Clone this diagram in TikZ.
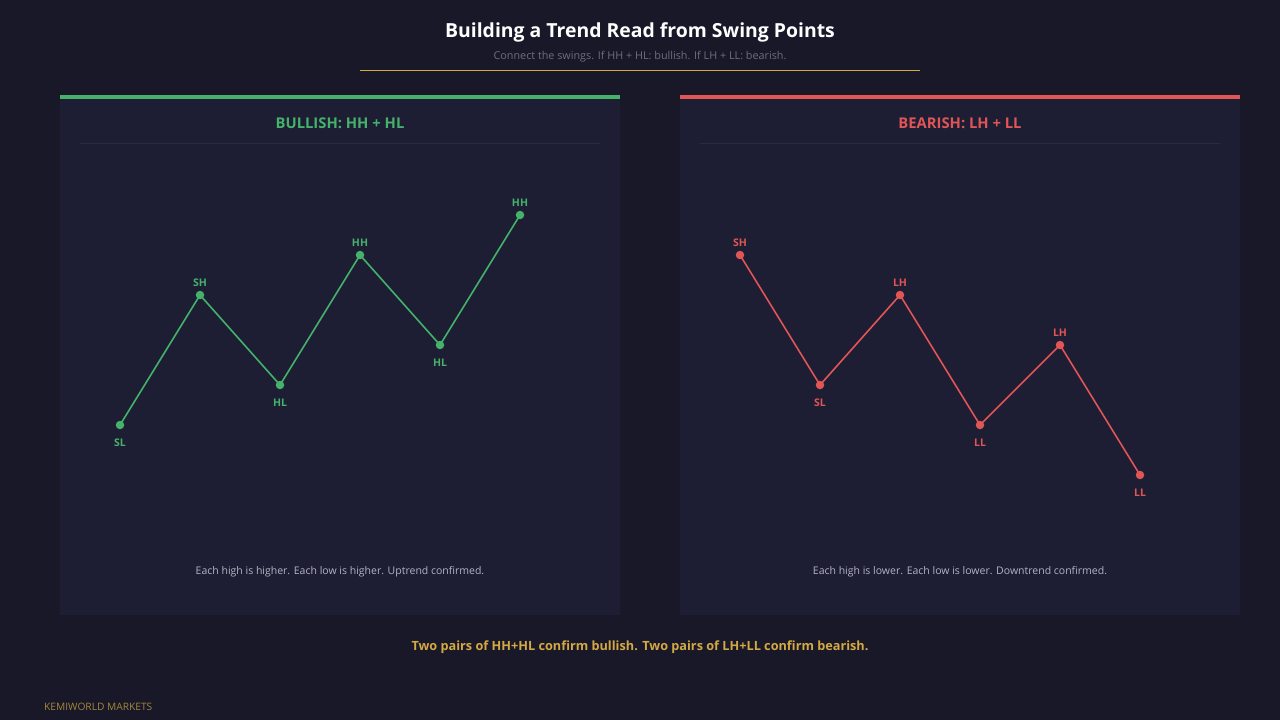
\documentclass[tikz,border=0pt]{standalone}
\usepackage{fontspec}
\setmainfont{Open Sans}
\usetikzlibrary{positioning}

\definecolor{bgdark}{HTML}{181828}
\definecolor{panelbg}{HTML}{1D1D33}
\definecolor{sepline}{HTML}{2A2A42}
\definecolor{bullgreen}{HTML}{45B26B}
\definecolor{bearred}{HTML}{E05555}
\definecolor{gold}{HTML}{D4A843}
\definecolor{subgray}{HTML}{6E6E84}
\definecolor{capgray}{HTML}{B4B4C4}

\begin{document}
\begin{tikzpicture}[
    x=1pt, y=-1pt,
    node distance = 3pt,
    panel/.style={
        fill=panelbg, draw=none
    },
    topbar/.style={
        line width=3.5pt
    },
    swing/.style={
        fill, circle, inner sep=0pt, minimum size=8.5pt
    },
    lbl/.style={
        font=\fontsize{10.5}{12}\selectfont\bfseries, inner sep=1pt
    },
    low/.style={
        below=8pt of #1
    },
    leg/.style={
        line width=1.6pt, line join=round
    },
    ptitle/.style={
        font=\fontsize{14.8}{17}\selectfont\bfseries
    },
    caption/.style={
        text=capgray, font=\fontsize{10.5}{12}\selectfont
    },
]

    \useasboundingbox[fill=bgdark] (0,0) rectangle (1280,720);

    % header
    \node[text=white, font=\fontsize{19.4}{22}\selectfont\bfseries] (title) at (640,32) {Building a Trend Read from Swing Points};
    \node[text=subgray, font=\fontsize{10.8}{12}\selectfont] (sub) at (640,56.5) {Connect the swings. If HH + HL: bullish. If LH + LL: bearish.};
    \draw[gold, line width=0.8pt] (360,70) -- (920,70);

    % panels
    \fill[panel] (60,97) rectangle (620,615);
    \fill[panel] (680,97) rectangle (1240,615);
    \draw[topbar, bullgreen] (60,96.75) -- (620,96.75);
    \draw[topbar, bearred] (680,96.75) -- (1240,96.75);

    \node[ptitle, text=bullgreen] (bulltitle) at (340,123) {BULLISH: HH + HL};
    \node[ptitle, text=bearred] (beartitle) at (960,123) {BEARISH: LH + LL};
    \draw[sepline, line width=0.8pt] (80,143.5) -- (600,143.5);
    \draw[sepline, line width=0.8pt] (700,143.5) -- (1220,143.5);

    % bullish swings
    \node[swing, bullgreen] (b1) at (120,425) {};
    \node[swing, bullgreen] (b2) at (200,295) {};
    \node[swing, bullgreen] (b3) at (280,385) {};
    \node[swing, bullgreen] (b4) at (360,255) {};
    \node[swing, bullgreen] (b5) at (440,345) {};
    \node[swing, bullgreen] (b6) at (520,215) {};
    \draw[leg, bullgreen] (b1.center) -- (b2.center) -- (b3.center) -- (b4.center) -- (b5.center) -- (b6.center);

    \node[lbl, bullgreen, low=b1] (b1l) {SL};
    \node[lbl, bullgreen, above=of b2] (b2l) {SH};
    \node[lbl, bullgreen, low=b3] (b3l) {HL};
    \node[lbl, bullgreen, above=of b4] (b4l) {HH};
    \node[lbl, bullgreen, low=b5] (b5l) {HL};
    \node[lbl, bullgreen, above=of b6] (b6l) {HH};

    % bearish swings
    \node[swing, bearred] (r1) at (740,255) {};
    \node[swing, bearred] (r2) at (820,385) {};
    \node[swing, bearred] (r3) at (900,295) {};
    \node[swing, bearred] (r4) at (980,425) {};
    \node[swing, bearred] (r5) at (1060,345) {};
    \node[swing, bearred] (r6) at (1140,475) {};
    \draw[leg, bearred] (r1.center) -- (r2.center) -- (r3.center) -- (r4.center) -- (r5.center) -- (r6.center);

    \node[lbl, bearred, above=of r1] (r1l) {SH};
    \node[lbl, bearred, low=r2] (r2l) {SL};
    \node[lbl, bearred, above=of r3] (r3l) {LH};
    \node[lbl, bearred, low=r4] (r4l) {LL};
    \node[lbl, bearred, above=of r5] (r5l) {LH};
    \node[lbl, bearred, low=r6] (r6l) {LL};

    \node[caption] (bullcap) at (340,572) {Each high is higher. Each low is higher. Uptrend confirmed.};
    \node[caption] (bearcap) at (960,572) {Each high is lower. Each low is lower. Downtrend confirmed.};

    % footer
    \node[text=gold, font=\fontsize{12.7}{15}\selectfont\bfseries] (summary) at (640,647) {Two pairs of HH+HL confirm bullish. Two pairs of LH+LL confirm bearish.};
    \node[text=gold!75!bgdark, font=\fontsize{10.2}{11}\selectfont, anchor=west, inner sep=0pt] (brand) at (44,707) {KEMIWORLD MARKETS};

\end{tikzpicture}
\end{document}
